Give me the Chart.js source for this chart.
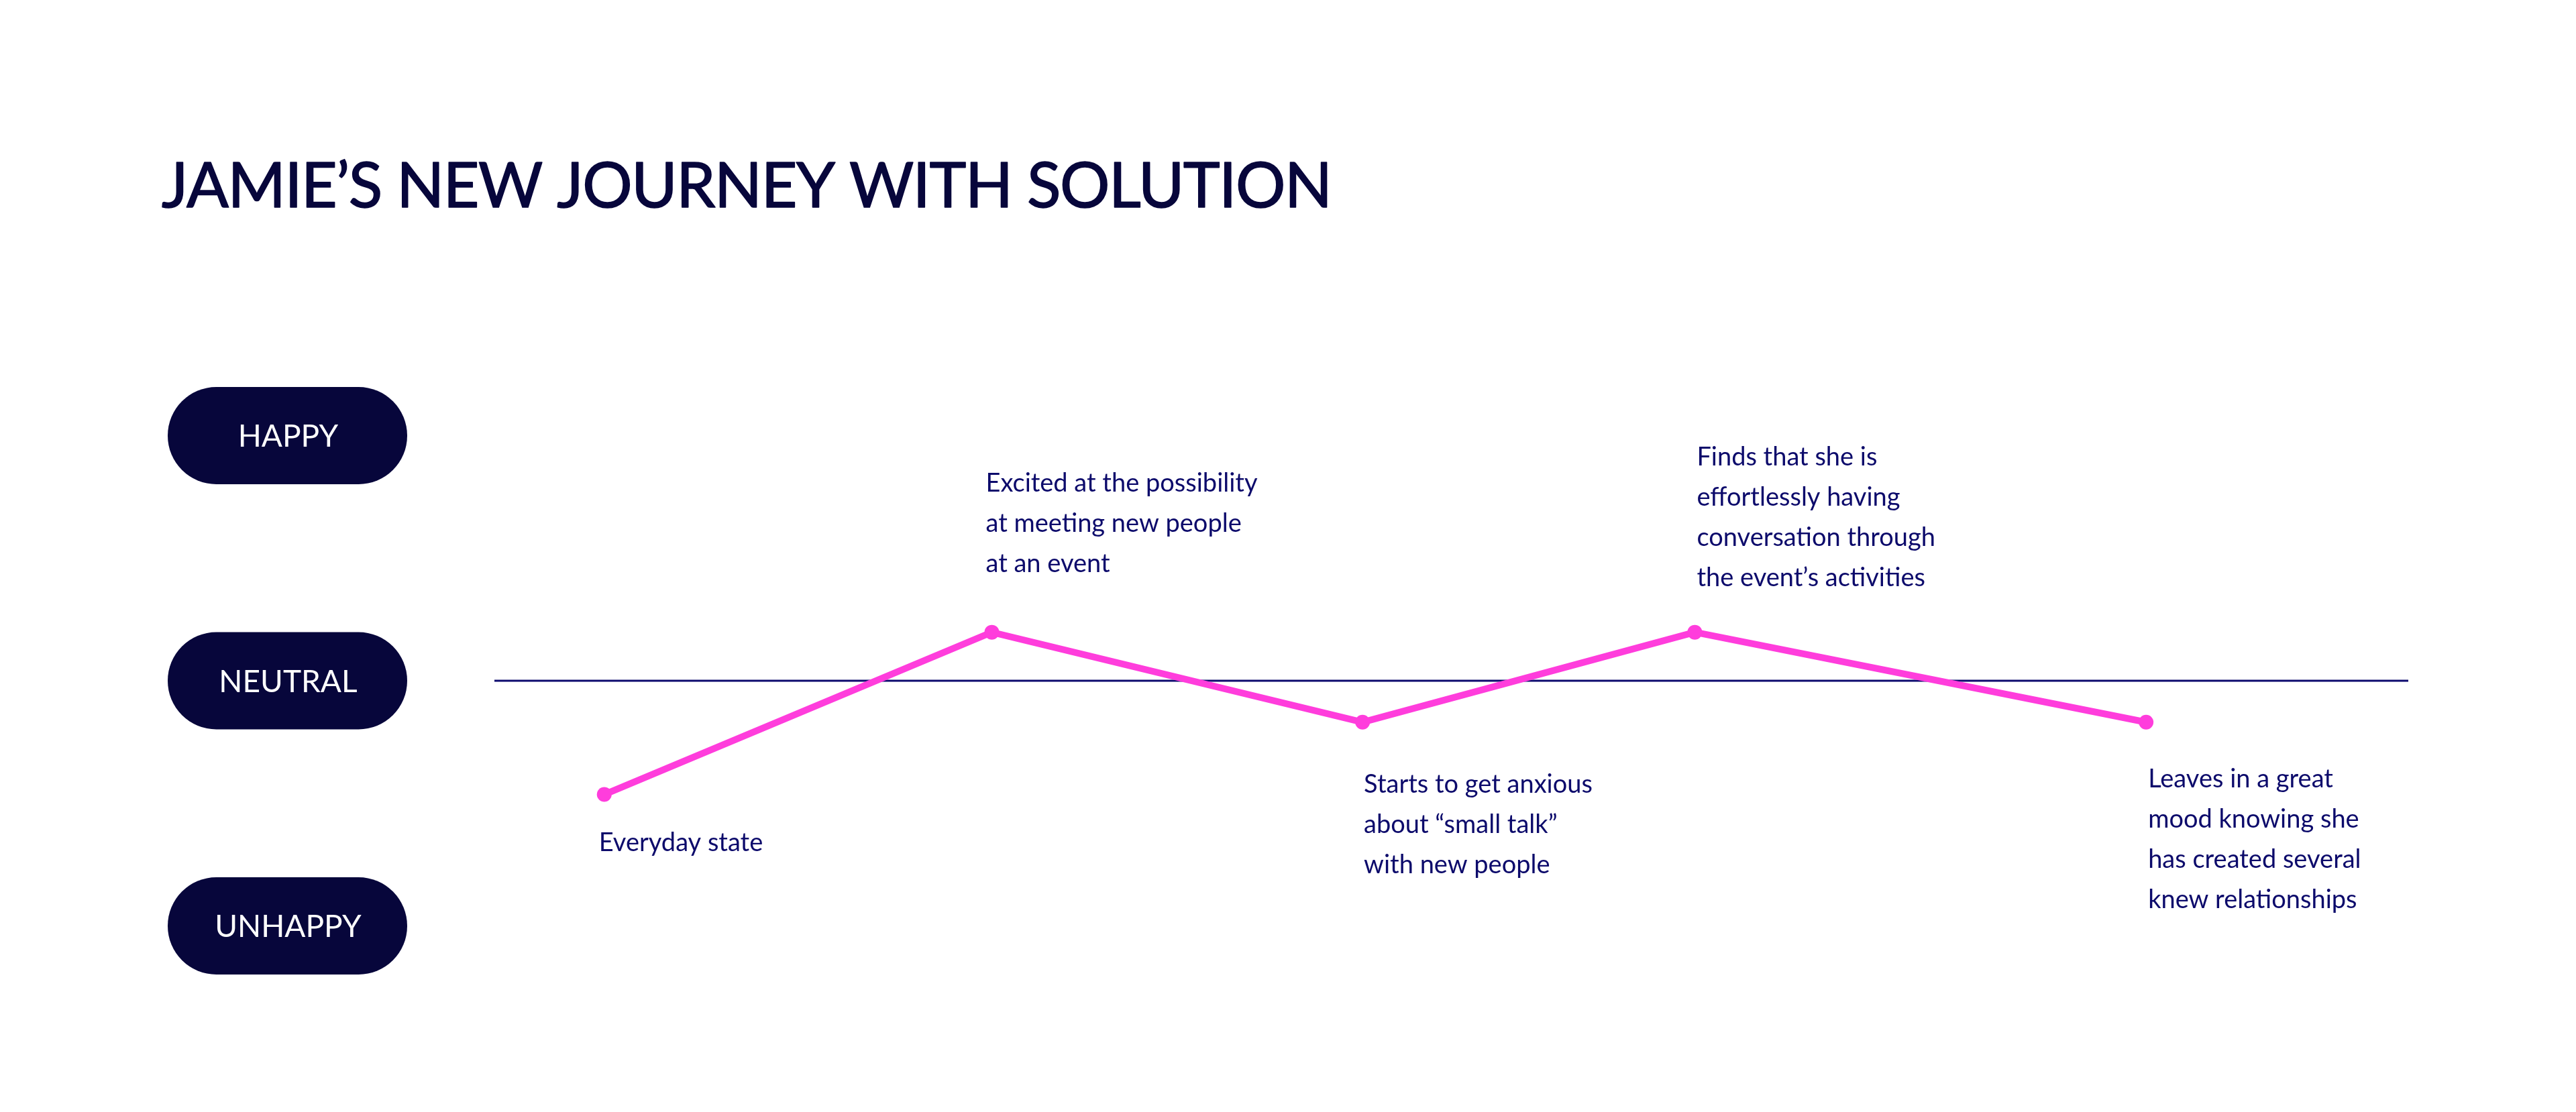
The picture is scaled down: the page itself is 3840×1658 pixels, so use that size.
<!DOCTYPE html>
<html>
<head>
<meta charset="utf-8">
<script src="https://cdn.jsdelivr.net/npm/chart.js@4.4.1/dist/chart.umd.min.js"></script>
<style>
html, body { margin: 0; padding: 0; background: #ffffff; }
#wrap { width: 3840px; height: 1658px; }
</style>
</head>
<body>
<div id="wrap"><canvas id="c" width="3840" height="1658"></canvas></div>
<script>
// ---- data ----
const chartTitle = "JAMIE’S NEW JOURNEY WITH SOLUTION";
const moodLevels = [1, 0, -1];
const moodLabels = ["HAPPY", "NEUTRAL", "UNHAPPY"];
const stepX = [5.74, 25.99, 45.36, 62.72, 86.30];
const moodValues = [-0.464, 0.198, -0.169, 0.198, -0.169];
const stepNotes = [
  ["Everyday state"],
  ["Excited at the possibility", "at meeting new people", "at an event"],
  ["Starts to get anxious", "about “small talk”", "with new people"],
  ["Finds that she is", "effortlessly having", "conversation through", "the event’s activities"],
  ["Leaves in a great", "mood knowing she", "has created several", "knew relationships"]
];
const neutralX = [0, 100];
const neutralY = [0, 0];

// ---- styling / layout ----
const PINK = "#ff3ddc";
const NAVY_LINE = "#0c0a6e";
const DARK = "#07063b";
const NOTE_COLOR = "#0c0a6b";
const noteDx = [-8, -9, 2, 3, 3];
const noteDy = [84, -210, 105, -249, 97];
const noteLineHeight = 60;

const decorPlugin = {
  id: "decor",
  afterDraw(chart) {
    const ctx = chart.ctx;
    const xs = chart.scales.x, ys = chart.scales.y;
    ctx.save();
    // title
    ctx.fillStyle = DARK;
    ctx.strokeStyle = DARK;
    ctx.lineWidth = 1.6;
    ctx.lineJoin = "round";
    ctx.textBaseline = "alphabetic";
    ctx.textAlign = "left";
    ctx.font = "400 93px Lato";
    ctx.letterSpacing = "0px";
    const w0 = ctx.measureText(chartTitle).width;
    const ls = (1745 - w0) / (chartTitle.length - 1);
    ctx.letterSpacing = ls + "px";
    ctx.fillText(chartTitle, 241, 309);
    ctx.strokeText(chartTitle, 241, 309);
    ctx.letterSpacing = "0px";

    // pills
    moodLevels.forEach((lv, i) => {
      const cy = ys.getPixelForValue(lv);
      const h = 145, w = 357, x = 250;
      ctx.fillStyle = DARK;
      ctx.beginPath();
      ctx.roundRect(x, cy - h / 2, w, h, h / 2);
      ctx.fill();
      ctx.fillStyle = "#ffffff";
      ctx.font = "400 46px Lato";
      ctx.textAlign = "center";
      ctx.fillText(moodLabels[i], x + w / 2 + 1, cy + 16.5);
    });

    // notes
    ctx.fillStyle = NOTE_COLOR;
    ctx.textAlign = "left";
    ctx.font = "400 38px Lato";
    stepNotes.forEach((lines, i) => {
      const px = xs.getPixelForValue(stepX[i]);
      const py = ys.getPixelForValue(moodValues[i]);
      lines.forEach((t, j) => {
        ctx.fillText(t, px + noteDx[i], py + noteDy[i] + j * noteLineHeight);
      });
    });
    ctx.restore();
  }
};

new Chart(document.getElementById("c"), {
  type: "line",
  data: {
    datasets: [
      {
        data: stepX.map((x, i) => ({ x: x, y: moodValues[i] })),
        borderColor: PINK,
        backgroundColor: PINK,
        borderWidth: 10,
        pointRadius: 11,
        pointBackgroundColor: PINK,
        pointBorderWidth: 0,
        tension: 0,
        fill: false,
        order: 0
      },
      {
        data: neutralX.map((x, i) => ({ x: x, y: neutralY[i] })),
        borderColor: NAVY_LINE,
        borderWidth: 3,
        pointRadius: 0,
        tension: 0,
        fill: false,
        order: 1
      }
    ]
  },
  options: {
    responsive: false,
    animation: false,
    devicePixelRatio: 1,
    layout: { padding: { left: 737, right: 250, top: 466.75, bottom: 94.75 } },
    plugins: { legend: { display: false }, tooltip: { enabled: false }, title: { display: false } },
    scales: {
      x: { type: "linear", min: 0, max: 100, display: false },
      y: { type: "linear", min: -1.5, max: 1.5, display: false }
    }
  },
  plugins: [decorPlugin]
});
</script>
</body>
</html>
